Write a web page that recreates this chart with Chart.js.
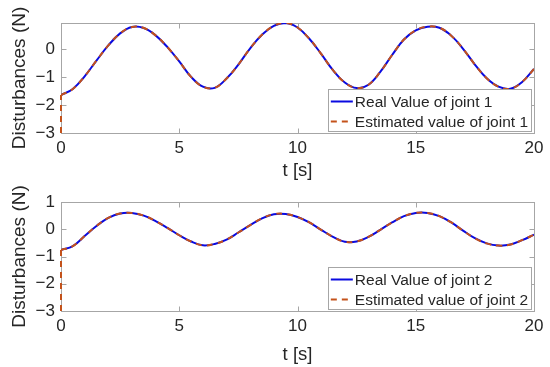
<!DOCTYPE html>
<html>
<head>
<meta charset="utf-8">
<script src="https://cdn.jsdelivr.net/npm/chart.js@4.4.0/dist/chart.umd.min.js"></script>
<style>
  html, body { margin: 0; padding: 0; background: #fff; }
  #wrap { position: relative; width: 550px; height: 367px; }
  .panel { position: absolute; left: 0; width: 550px; }
  #top { top: 0; height: 183px; }
  #bot { top: 183px; height: 184px; }
</style>
</head>
<body>
<div id="wrap">
  <div class="panel" id="top"><canvas id="c1"></canvas></div>
  <div class="panel" id="bot"><canvas id="c2"></canvas></div>
</div>
<script>
// sample times (s)
const timeS = [0, 0.5, 1, 1.5, 2, 2.5, 3, 3.5, 4, 4.5, 5, 5.5, 6, 6.5, 7, 7.5, 8, 8.5, 9, 9.5,
               10, 10.5, 11, 11.5, 12, 12.5, 13, 13.5, 14, 14.5, 15, 15.5, 16, 16.5, 17, 17.5, 18, 18.5, 19, 19.5, 20];

// joint 1 disturbance (N)
const joint1Real = [-1.65, -1.43, -0.98, -0.42, 0.12, 0.55, 0.78, 0.74, 0.48, 0.06,
                    -0.45, -1.00, -1.35, -1.39, -1.06, -0.56, 0.02, 0.50, 0.82, 0.92,
                    0.76, 0.36, -0.18, -0.76, -1.20, -1.40, -1.28, -0.82, -0.22, 0.33,
                    0.66, 0.79, 0.75, 0.47, 0.00, -0.56, -1.05, -1.35, -1.42, -1.18, -0.72];

// joint 2 disturbance (N)
const joint2Real = [-0.76, -0.62, -0.25, 0.12, 0.42, 0.58, 0.60, 0.50, 0.30, 0.05,
                    -0.22, -0.45, -0.59, -0.54, -0.38, -0.12, 0.15, 0.40, 0.55, 0.56,
                    0.45, 0.25, -0.02, -0.28, -0.46, -0.45, -0.28, -0.02, 0.25, 0.48,
                    0.60, 0.60, 0.48, 0.25, -0.05, -0.33, -0.52, -0.60, -0.56, -0.40, -0.20];

// estimator starts from this value at t = 0
const estStart = -3;

const xTicks = [0, 5, 10, 15, 20];
const yTicks1 = [-3, -2, -1, 0];
const yTicks2 = [-3, -2, -1, 0, 1];

const FONT = "'Liberation Sans', Arial, Helvetica, sans-serif";
const BLUE = '#0a0ae0';
const RED = '#c4521a';
const AXIS_GRAY = '#a6a6a6';
const TEXT = '#262626';

// box around the axes with inward tick marks (matlab style)
const boxTicks = {
  id: 'boxTicks',
  beforeDatasetsDraw(chart) {
    const { ctx, chartArea: a, scales } = chart;
    const L = Math.round(a.left) + 0.5, R = Math.round(a.right) + 0.5;
    const T = Math.round(a.top) + 0.5, B = Math.round(a.bottom) + 0.5;
    const len = 5;
    ctx.save();
    ctx.strokeStyle = AXIS_GRAY;
    ctx.lineWidth = 1;
    ctx.strokeRect(L, T, R - L, B - T);
    ctx.beginPath();
    scales.x.ticks.forEach(t => {
      const px = Math.round(scales.x.getPixelForValue(t.value)) + 0.5;
      ctx.moveTo(px, B); ctx.lineTo(px, B - len);
      ctx.moveTo(px, T); ctx.lineTo(px, T + len);
    });
    scales.y.ticks.forEach(t => {
      const py = Math.round(scales.y.getPixelForValue(t.value)) + 0.5;
      ctx.moveTo(L, py); ctx.lineTo(L + len, py);
      ctx.moveTo(R, py); ctx.lineTo(R - len, py);
    });
    ctx.stroke();
    ctx.restore();
  }
};

// legend drawn inside the plot, lower right
const insideLegend = {
  id: 'insideLegend',
  afterDatasetsDraw(chart, args, opts) {
    const { ctx, chartArea: a } = chart;
    const items = chart.data.datasets.filter(d => d.inLegend);
    ctx.save();
    ctx.font = '15.5px ' + FONT;
    const textW = Math.max(...items.map(d => ctx.measureText(d.label).width));
    const padL = 3, sample = 22, gap = 2, padR = 3;
    const w = padL + sample + gap + textW + padR;
    const h = opts.height;
    const x0 = a.right - opts.right - w;
    const y0 = a.bottom - opts.bottom - h;
    ctx.fillStyle = '#fff';
    ctx.fillRect(x0, y0, w, h);
    ctx.strokeStyle = AXIS_GRAY;
    ctx.lineWidth = 1;
    ctx.strokeRect(Math.round(x0) + 0.5, Math.round(y0) + 0.5, Math.round(w), Math.round(h));
    items.forEach((d, i) => {
      const cy = Math.round(y0 + opts.firstRow + i * opts.rowH) + 0.5;
      ctx.strokeStyle = d.borderColor;
      ctx.lineWidth = d.borderWidth;
      ctx.setLineDash(d.borderDash || []);
      ctx.beginPath();
      ctx.moveTo(x0 + padL, cy);
      ctx.lineTo(x0 + padL + sample, cy);
      ctx.stroke();
      ctx.setLineDash([]);
      ctx.fillStyle = TEXT;
      ctx.textBaseline = 'middle';
      ctx.fillText(d.label, x0 + padL + sample + gap, cy + 1);
    });
    ctx.restore();
  }
};

function fmt(v) {
  return v < 0 ? '\u2212' + Math.abs(v) : String(v);
}

function makeChart(id, values, yTicks, yMax, jointNo, cfg) {
  const real = timeS.map((t, i) => ({ x: t, y: values[i] }));
  const est = timeS.map((t, i) => ({ x: t, y: values[i] }));
  const jump = [{ x: timeS[0], y: estStart }, { x: timeS[0], y: values[0] }];
  return new Chart(document.getElementById(id), {
    type: 'line',
    data: {
      datasets: [{
        label: 'Real Value of joint ' + jointNo,
        data: real,
        borderColor: BLUE,
        borderWidth: 2,
        order: 2,
        inLegend: true
      }, {
        label: 'Estimated value of joint ' + jointNo,
        data: est,
        borderColor: RED,
        borderWidth: 2,
        borderDash: [6, 5],
        order: 1,
        inLegend: true
      }, {
        label: 'estimate start',
        data: jump,
        borderColor: RED,
        borderWidth: 2,
        borderDash: [6, 5],
        tension: 0,
        order: 0,
        clip: 4
      }]
    },
    options: {
      responsive: true,
      maintainAspectRatio: false,
      animation: false,
      events: [],
      elements: {
        point: { radius: 0 },
        line: { tension: 0.4, fill: false }
      },
      layout: { padding: { left: 8, right: 16, top: cfg.top, bottom: 0 } },
      plugins: {
        legend: { display: false },
        tooltip: { enabled: false },
        insideLegend: { height: 42, right: 3, bottom: 2, firstRow: 12, rowH: 20 }
      },
      scales: {
        x: {
          type: 'linear',
          min: 0,
          max: 20,
          afterBuildTicks: s => { s.ticks = xTicks.map(v => ({ value: v })); },
          afterFit: s => { s.height = cfg.xHeight; },
          grid: { display: false, drawTicks: false },
          border: { display: false },
          ticks: { color: TEXT, font: { family: FONT, size: 17 }, padding: 5, maxRotation: 0, callback: fmt },
          title: { display: true, text: 't [s]', color: TEXT, font: { family: FONT, size: 18.5 }, padding: { top: 0, bottom: 1 } }
        },
        y: {
          min: -3,
          max: yMax,
          afterBuildTicks: s => { s.ticks = yTicks.map(v => ({ value: v })); },
          afterFit: s => { s.width = 53; },
          grid: { display: false, drawTicks: false },
          border: { display: false },
          ticks: { color: TEXT, font: { family: FONT, size: 17 }, padding: 6, callback: fmt },
          title: { display: true, text: 'Disturbances (N)', color: TEXT, font: { family: FONT, size: 19 }, padding: 0 }
        }
      }
    },
    plugins: [boxTicks, insideLegend]
  });
}

makeChart('c1', joint1Real, yTicks1, 0.92, 1, { top: 23, xHeight: 50 });
makeChart('c2', joint2Real, yTicks2, 1, 2, { top: 19, xHeight: 56 });
</script>
</body>
</html>
